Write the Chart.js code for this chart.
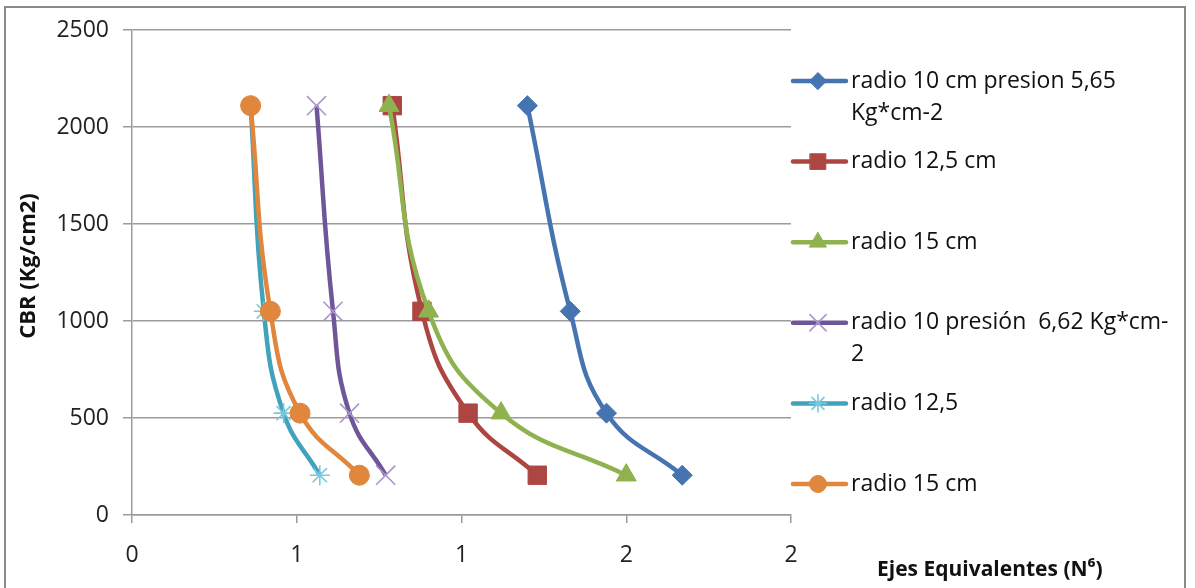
<!DOCTYPE html>
<html>
<head>
<meta charset="utf-8">
<title>CBR vs Ejes Equivalentes</title>
<script src="https://cdn.jsdelivr.net/npm/chart.js@4.4.1/dist/chart.umd.min.js"></script>
<style>
html,body{margin:0;padding:0;background:#fff;}
#wrap{width:1195px;height:588px;}
</style>
</head>
<body>
<div id="wrap"><canvas id="myChart" width="1195" height="588"></canvas></div>
<script>
// CBR values (same 4 levels for every series)
var cbr=[2110,1050,525,205];

// ejes equivalentes (N^6) for each radio / presion
var ejesR10p565=[1.2,1.33,1.44,1.67];
var ejesR125=[0.79,0.88,1.02,1.23];
var ejesR15=[0.78,0.9,1.12,1.5];
var ejesR10p662=[0.56,0.61,0.66,0.77];
var ejesR125b=[0.36,0.4,0.46,0.57];
var ejesR15b=[0.36,0.42,0.51,0.69];

// legend names, already split where the text wraps
var seriesNames=[
    ['radio 10 cm presion 5,65','Kg*cm-2'],
    ['radio 12,5 cm'],
    ['radio 15 cm'],
    ['radio 10 presión  6,62 Kg*cm-','2'],
    ['radio 12,5'],
    ['radio 15 cm']
];

var xTicks=[0,0.5,1,1.5,2];
var yTicks=[0,500,1000,1500,2000,2500];

var xTitle='Ejes Equivalentes (N\u2076)';
var yTitle='CBR (Kg/cm2)';

var ejes=[ejesR10p565,ejesR125,ejesR15,ejesR10p662,ejesR125b,ejesR15b];

var colors=['#4674b0','#ad4643','#8fb24f','#6f5698','#40a2bb','#e0863d'];
var markerBorder=['#4674b0','#ad4643','#8fb24f','#a896cc','#79c9de','#e0863d'];
var styles=['rectRot','rect','triangle','crossRot','star','circle'];
var radii=[10,13,11.5,13.5,10,10];
var markerWidth=[1,1,1,1.6,1.6,1];

function makePoints(xs){
    let list=[];
    for(let i=0;i<xs.length;i++){
        list.push({x:xs[i],y:cbr[i]});
    }
    return list;
}

var ds=[];
for(let i=0;i<ejes.length;i++){
    ds.push({
        label:seriesNames[i].join(' '),
        data:makePoints(ejes[i]),
        showLine:true,
        tension:0.45,
        borderColor:colors[i],
        backgroundColor:colors[i],
        borderWidth:4.5,
        pointStyle:styles[i],
        pointRadius:radii[i],
        pointBackgroundColor:colors[i],
        pointBorderColor:markerBorder[i],
        pointBorderWidth:markerWidth[i],
        order:ejes.length-i
    });
}

const gridCol='#9b9b9b';
const fontName='"Open Sans", "Liberation Sans", sans-serif';

// frame, axis titles and the legend on the right
const decor={
    id:'decor',
    beforeDraw(chart){
        const c=chart.ctx;
        c.save();
        c.fillStyle='#fff';
        c.fillRect(0,0,chart.width,chart.height);
        c.restore();
    },
    afterDraw(chart){
        const c=chart.ctx;
        c.save();
        c.strokeStyle='#8a8a8a';
        c.lineWidth=2;
        c.strokeRect(5,7,1180,582);

        c.fillStyle='#111';
        c.font='bold 21px '+fontName;
        c.textBaseline='middle';
        c.textAlign='left';
        c.fillText(xTitle,877,570);

        c.save();
        c.translate(29,266);
        c.rotate(-Math.PI/2);
        c.textAlign='center';
        c.font='bold 22px '+fontName;
        c.fillText(yTitle,0,0);
        c.restore();

        let rowY=81;
        const step=80.6;
        c.font='23px '+fontName;
        for(let i=0;i<ds.length;i++){
            const y=rowY+i*step;
            c.strokeStyle=colors[i];
            c.lineWidth=4.5;
            c.lineCap='round';
            c.beginPath();
            c.moveTo(793,y);
            c.lineTo(846,y);
            c.stroke();
            c.fillStyle=colors[i];
            c.strokeStyle=markerBorder[i];
            c.lineWidth=markerWidth[i];
            Chart.helpers.drawPoint(c,{
                pointStyle:styles[i],
                radius:radii[i]*0.85,
                rotation:0,
                borderWidth:markerWidth[i]
            },818,y);
            c.fillStyle='#111';
            seriesNames[i].forEach(function(line,j){
                c.fillText(line,851,y+j*32);
            });
        }
        c.restore();
    }
};

const config={
    type:'scatter',
    data:{datasets:ds},
    options:{
        responsive:false,
        devicePixelRatio:1,
        animation:false,
        events:[],
        layout:{padding:{left:0,top:30,right:404,bottom:0}},
        plugins:{
            legend:{display:false},
            tooltip:{enabled:false}
        },
        scales:{
            x:{
                type:'linear',
                min:0,
                max:2,
                afterBuildTicks:function(s){ s.ticks=xTicks.map(v=>({value:v})); },
                afterFit:function(s){ s.height=73; },
                ticks:{
                    color:'#222',
                    font:{family:fontName,size:23},
                    padding:19,
                    callback:function(v){ return Math.round(v).toString(); }
                },
                grid:{
                    drawOnChartArea:false,
                    drawTicks:true,
                    tickLength:8,
                    color:gridCol,
                    lineWidth:1.5
                },
                border:{display:true,color:gridCol,width:1.5}
            },
            y:{
                min:0,
                max:2500,
                afterBuildTicks:function(s){ s.ticks=yTicks.map(v=>({value:v})); },
                afterFit:function(s){ s.width=132; },
                ticks:{
                    color:'#222',
                    font:{family:fontName,size:23},
                    padding:14,
                    callback:function(v){ return String(v); }
                },
                grid:{
                    color:gridCol,
                    lineWidth:1.5,
                    tickLength:9
                },
                border:{display:true,color:gridCol,width:1.5}
            }
        }
    },
    plugins:[decor]
};

const myChart=new Chart(document.getElementById('myChart'),config);
</script>
</body>
</html>
